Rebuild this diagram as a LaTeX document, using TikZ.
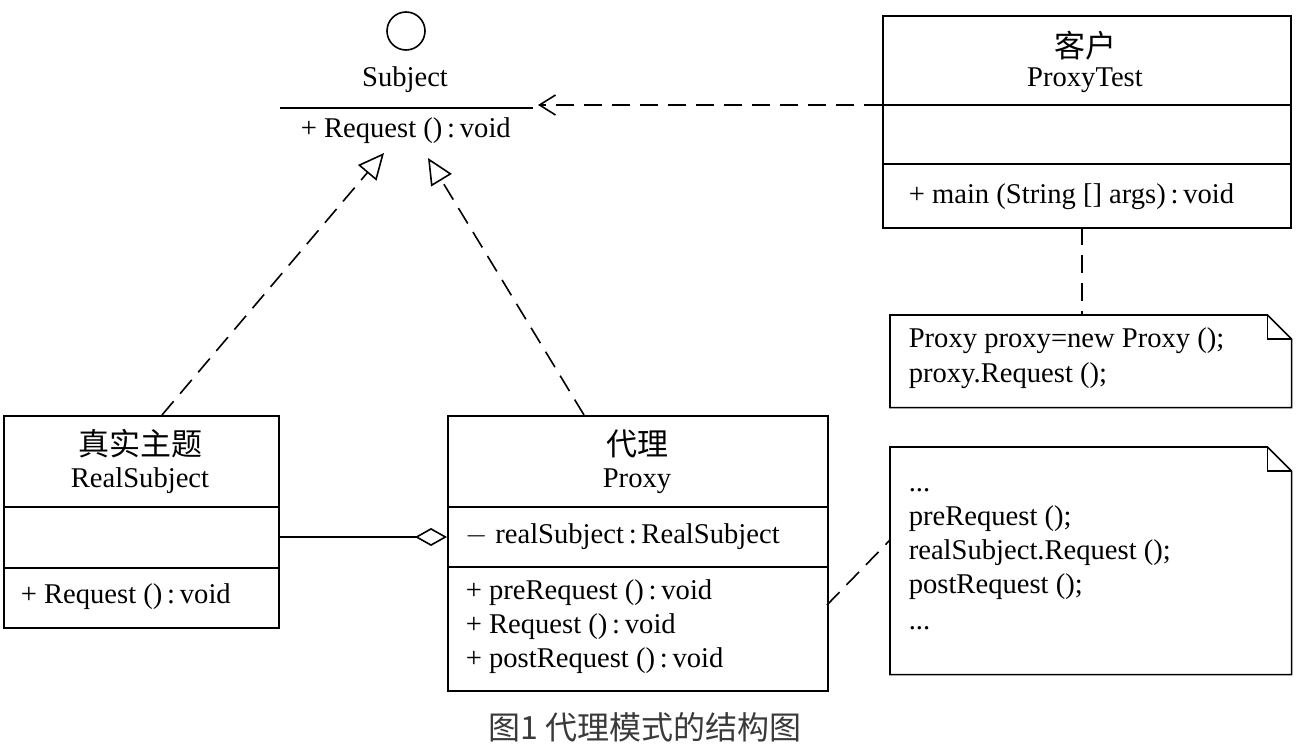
\documentclass[tikz,border=0pt]{standalone}
\usepackage{fontspec}
\setmainfont{Liberation Serif}
\newfontfamily\cjk{Noto Sans CJK SC}
\usetikzlibrary{arrows.meta}
\definecolor{capgray}{HTML}{3A3A3A}
\newcommand{\cln}{\thinspace:\thinspace}
\begin{document}
\begin{tikzpicture}[x=0.5pt,y=-0.5pt,
  line width=0.8pt,
  umlbox/.style={draw, rectangle, anchor=north west, inner sep=0pt},
  txt/.style={font=\fontsize{14.3}{16}\selectfont, inner sep=0pt},
  cjktxt/.style={font=\cjk\fontsize{15.5}{17}\selectfont, inner sep=0pt},
  dsh/.style={dash pattern=on 9pt off 5pt},
  ghost/.style={rectangle, anchor=north west, inner sep=0pt}]
\useasboundingbox (0,0) rectangle (1298,744);
% Interface Subject
\node[draw, circle, minimum size=19pt, inner sep=0pt] (subjc) at (406,31) {};
\node[txt] (subjname) at (405,80) {Subject};
\coordinate (sl1) at (280,108);
\coordinate (sl2) at (533,108);
\draw (sl1) -- (sl2);
\node[txt, anchor=west] (subjop) at (300,131) {+ Request ()\cln void};
% Client
\node[umlbox, minimum width=204pt, minimum height=106pt] (client) at (882,15) {};
\draw (882,105) -- (1290,105);
\draw (882,164) -- (1290,164);
\node[cjktxt] (clientcn) at (1085,46) {客户};
\node[txt] (clientname) at (1085,80) {ProxyTest};
\node[txt, anchor=west] (clientop) at (908,197) {+ main (String [] args)\cln void};
% dependency
\coordinate (depfrom) at (882,105);
\coordinate (depto) at (538,105);
\draw[dsh, -{Straight Barb[length=8pt,width=10pt,line width=0.8pt]}] (depfrom) -- (depto);
% Note 1
\node[ghost, minimum width=200pt, minimum height=45.5pt] (note1) at (890,315) {};
\draw (note1.south west) -- (note1.north west) -- ([xshift=-12pt]note1.north east) -- ([yshift=-12pt]note1.north east) -- (note1.south east) -- cycle;
\draw ([xshift=-12pt]note1.north east) -- ([xshift=-12pt,yshift=-12pt]note1.north east) -- ([yshift=-12pt]note1.north east);
\node[txt, anchor=west] (n1a) at (908,341) {Proxy proxy=new Proxy ();};
\node[txt, anchor=west] (n1b) at (908,376) {proxy.Request ();};
\coordinate (c1a) at (1082,227);
\coordinate (c1b) at (1082,315);
\draw[dsh] (c1a) -- (c1b);
% RealSubject
\node[umlbox, minimum width=137.5pt, minimum height=106pt] (rs) at (3,415) {};
\draw (3,507) -- (278,507);
\draw (3,568) -- (278,568);
\node[cjktxt] (rscn) at (140,444) {真实主题};
\node[txt] (rsname) at (140,481) {RealSubject};
\node[txt, anchor=west] (rsop) at (20,597) {+ Request ()\cln void};
% Proxy
\node[umlbox, minimum width=190pt, minimum height=137.5pt] (proxy) at (447,415) {};
\draw (447,507) -- (827,507);
\draw (447,567) -- (827,567);
\node[cjktxt] (pcn) at (637,444) {代理};
\node[txt] (pname) at (637,481) {Proxy};
\node[txt, anchor=west] (pattr) at (465,537) {$-$ realSubject\cln RealSubject};
\node[txt, anchor=west] (pop1) at (465,593) {+ preRequest ()\cln void};
\node[txt, anchor=west] (pop2) at (465,627) {+ Request ()\cln void};
\node[txt, anchor=west] (pop3) at (465,661) {+ postRequest ()\cln void};
% aggregation
\coordinate (agg1) at (278,537);
\coordinate (agg2) at (447,537);
\draw[-{Diamond[open,length=16pt,width=9pt,line width=0.8pt]}] (agg1) -- (agg2);
% realizations
\coordinate (r1a) at (162,415);
\coordinate (r1b) at (384,153);
\coordinate (r2a) at (584,415);
\coordinate (r2b) at (428,158);
\draw[dsh, -{Triangle[open,length=13pt,width=12pt,line width=0.8pt]}] (r1a) -- (r1b);
\draw[dsh, -{Triangle[open,length=13pt,width=12pt,line width=0.8pt]}] (r2a) -- (r2b);
% Note 2
\node[ghost, minimum width=200pt, minimum height=113pt] (note2) at (890,447) {};
\draw (note2.south west) -- (note2.north west) -- ([xshift=-12pt]note2.north east) -- ([yshift=-12pt]note2.north east) -- (note2.south east) -- cycle;
\draw ([xshift=-12pt]note2.north east) -- ([xshift=-12pt,yshift=-12pt]note2.north east) -- ([yshift=-12pt]note2.north east);
\node[txt, anchor=west] (n2a) at (908,490) {...};
\node[txt, anchor=west] (n2b) at (908,519) {preRequest ();};
\node[txt, anchor=west] (n2c) at (908,553) {realSubject.Request ();};
\node[txt, anchor=west] (n2d) at (908,587) {postRequest ();};
\node[txt, anchor=west] (n2e) at (908,628) {...};
\coordinate (c2a) at (827,605);
\coordinate (c2b) at (890,540);
\draw[dsh] (c2a) -- (c2b);
% caption
\node[font=\cjk\fontsize{16}{18}\selectfont, text=capgray, inner sep=0pt] (caption) at (645,727) {图1 代理模式的结构图};
\end{tikzpicture}
\end{document}
